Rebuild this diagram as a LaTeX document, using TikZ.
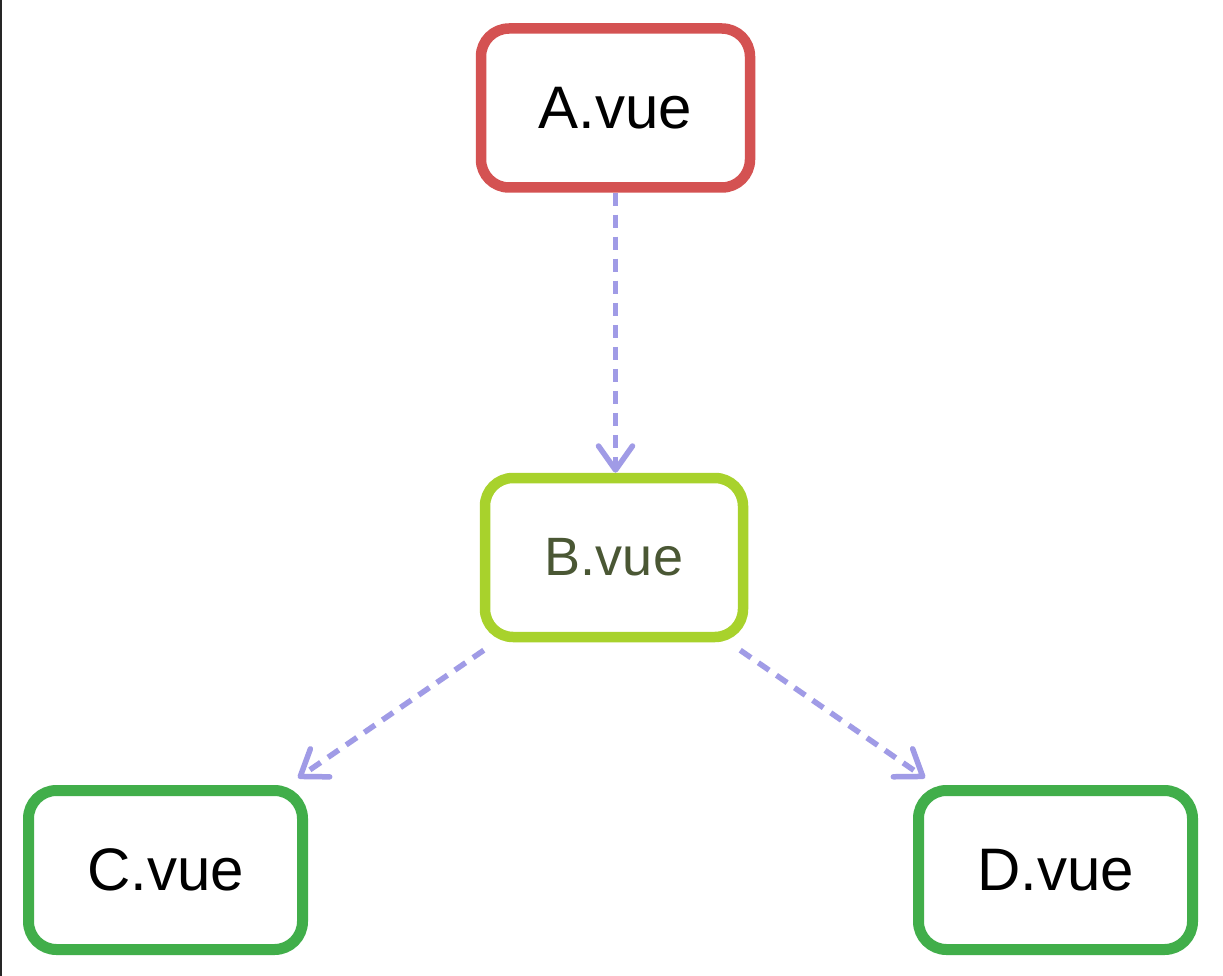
\documentclass[tikz,border=0pt]{standalone}
\usepackage{fontspec}
\setmainfont{Liberation Sans}
\usetikzlibrary{arrows.meta,calc}
\definecolor{redA}{HTML}{D45252}
\definecolor{limeB}{HTML}{A8D22C}
\definecolor{greenC}{HTML}{41AE4A}
\definecolor{textB}{HTML}{4A5734}
\definecolor{arrowc}{HTML}{A09BE6}
\begin{document}
\begin{tikzpicture}[x=1pt,y=-1pt,
  vuebox/.style={draw, line width=10.5pt, rounded corners=28pt, minimum height=159pt,
    fill=white, inner sep=0pt, text=black, font=\fontsize{60}{72}\selectfont},
  link/.style={draw=arrowc, line width=5.5pt, dash pattern=on 13pt off 9pt,
    -{Straight Barb[length=24pt,width=34pt,round]}}]
\useasboundingbox (0,0) rectangle (1223,976);
\fill[white] (0,0) rectangle (1223,976);
\fill[black!85] (0,0) rectangle (2,976);
\node[vuebox, draw=redA, minimum width=269pt] (A) at (615.5,108) {A.vue};
\node[vuebox, draw=limeB, minimum width=258pt, text=textB, font=\fontsize{54}{64}\selectfont] (B) at (614,557.5) {B.vue};
\node[vuebox, draw=greenC, minimum width=274pt, line width=11pt] (C) at (165.5,870) {C.vue};
\node[vuebox, draw=greenC, minimum width=274pt, line width=11pt] (D) at (1055.5,870) {D.vue};
\draw[link] (A.south) -- (A.south |- B.north);
\draw[link] ($(B.south west)+(4,8)$) -- ($(C.north east)+(-10,-7)$);
\draw[link] ($(B.south east)+(-8,8)$) -- ($(D.north west)+(12,-7)$);
\end{tikzpicture}
\end{document}
